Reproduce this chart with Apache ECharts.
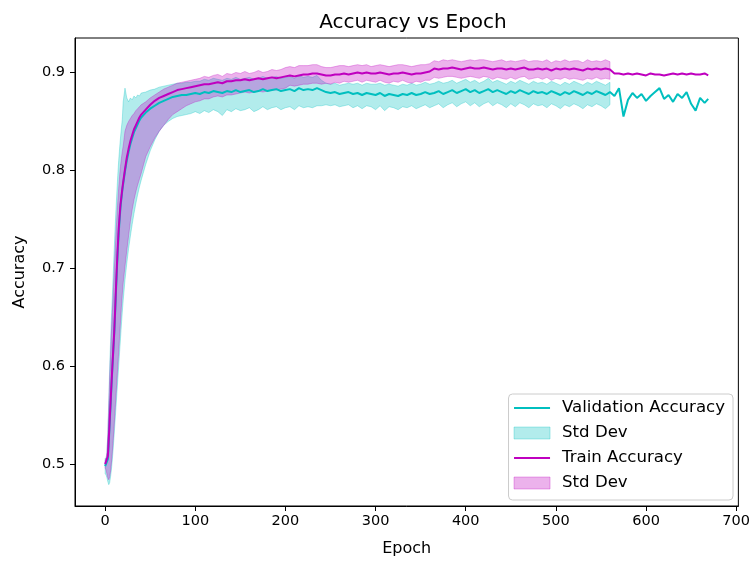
<!DOCTYPE html>
<html><head><meta charset="utf-8">
<script src="https://cdn.jsdelivr.net/npm/echarts@6/dist/echarts.min.js"></script>
<style>html,body{margin:0;padding:0;background:#fff}#c{width:753px;height:562px}</style>
</head><body><div id="c"></div>
<script>
// sample epochs
const epochs = [0,1,2,3,4,5,6,7,8,9,10,11,12,13,14,15,16,17,18,19,20,
  22,24,26,28,30,32,34,36,38,40,
  45,50,55,60,65,70,75,80,85,90,95,100,
  105,110,115,120,125,130,135,140,145,150,155,160,165,170,175,180,185,190,195,200,
  205,210,215,220,225,230,235,240,245,250,255,260,265,270,275,280,285,290,295,300,
  305,310,315,320,325,330,335,340,345,350,355,360,365,370,375,380,385,390,395,400,
  405,410,415,420,425,430,435,440,445,450,455,460,465,470,475,480,485,490,495,500,
  505,510,515,520,525,530,535,540,545,550,555,560,565,570,575,580,585,590,595,600,
  605,610,615,620,625,630,635,640,645,650,655,660,665,669];

const valMean = [.498,.497,.499,.505,.522,.542,.560,.580,.598,.615,.632,.653,.676,.698,.718,.735,.749,.762,.771,.779,.786,
  .799,.810,.819,.827,.833,.839,.843,.847,.851,.854,
  .859,.863,.866,.869,.871,.873,.875,.876,.877,.877,.878,.879,
  .878,.880,.879,.881,.880,.879,.881,.880,.882,.880,.881,.882,.880,.881,.883,.881,.882,.883,.881,.882,
  .883,.881,.884,.882,.883,.882,.884,.882,.880,.879,.880,.878,.879,.880,.878,.879,.877,.879,.878,.877,
  .879,.876,.878,.877,.876,.878,.877,.879,.877,.878,.880,.878,.879,.881,.878,.880,.882,.879,.881,.883,
  .880,.882,.879,.881,.883,.880,.882,.880,.878,.881,.879,.882,.880,.878,.881,.879,.880,.878,.881,.879,
  .877,.880,.878,.881,.879,.877,.880,.878,.881,.879,.877,.880,.876,.884,.855,.872,.879,.874,.878,.871,
  .876,.880,.884,.873,.877,.870,.878,.874,.880,.868,.861,.874,.869,.873];

const trainMean = [.500,.500,.502,.508,.525,.545,.563,.582,.600,.617,.634,.656,.680,.702,.722,.740,.753,.765,.773,.781,.788,
  .801,.813,.822,.830,.836,.842,.846,.850,.854,.857,
  .862,.867,.871,.874,.876,.878,.880,.882,.883,.884,.885,.886,
  .887,.888,.888,.889,.890,.889,.891,.891,.892,.892,.893,.892,.893,.894,.893,.894,.895,.894,.895,.896,
  .897,.896,.897,.898,.898,.899,.899,.898,.897,.897,.898,.898,.899,.898,.899,.900,.899,.900,.899,.899,
  .900,.899,.898,.899,.899,.900,.899,.898,.899,.899,.900,.901,.904,.903,.904,.904,.905,.904,.903,.904,
  .905,.904,.904,.905,.904,.903,.904,.904,.903,.904,.903,.904,.905,.903,.903,.904,.903,.904,.902,.904,
  .903,.904,.903,.904,.903,.902,.904,.903,.904,.903,.904,.903,.899,.899,.898,.899,.898,.899,.898,.897,
  .899,.898,.898,.897,.898,.899,.898,.899,.898,.899,.898,.898,.899,.897];

// std-dev band edges (epochs 0..560)
const valLow = [.490,.489,.486,.482,.479,.481,.487,.495,.505,.517,.530,.544,.558,.572,.586,.600,.614,.628,.642,.655,.667,
  .688,.705,.720,.733,.745,.756,.766,.775,.783,.790,
  .806,.820,.831,.840,.846,.850,.853,.855,.856,.857,.858,.860,
  .858,.861,.859,.862,.860,.856,.862,.860,.863,.861,.862,.864,.860,.862,.865,.862,.864,.865,.862,.864,
  .865,.862,.866,.864,.865,.864,.866,.866,.867,.866,.867,.865,.866,.867,.864,.866,.863,.866,.865,.862,
  .866,.861,.865,.864,.862,.865,.864,.866,.863,.865,.867,.864,.866,.868,.864,.867,.869,.865,.868,.870,
  .866,.869,.865,.868,.870,.866,.869,.867,.864,.868,.865,.869,.867,.864,.868,.866,.867,.864,.868,.866,
  .863,.867,.865,.868,.866,.863,.867,.865,.868,.866,.863,.867];
const valHigh = [.506,.505,.512,.532,.565,.598,.625,.650,.672,.695,.718,.740,.760,.778,.795,.810,.822,.833,.843,.852,.870,
  .884,.874,.870,.874,.872,.876,.874,.877,.876,.879,
  .880,.882,.883,.885,.886,.887,.888,.889,.889,.890,.890,.891,
  .891,.893,.892,.894,.893,.892,.894,.893,.895,.893,.894,.895,.893,.894,.896,.894,.895,.896,.894,.895,
  .896,.894,.897,.895,.896,.895,.897,.892,.889,.888,.889,.887,.888,.889,.888,.889,.887,.889,.888,.888,
  .889,.887,.888,.887,.886,.888,.887,.889,.887,.888,.890,.888,.889,.891,.889,.890,.892,.889,.891,.893,
  .890,.892,.889,.891,.894,.890,.892,.890,.888,.891,.889,.892,.890,.888,.891,.889,.890,.888,.891,.889,
  .887,.890,.888,.891,.889,.887,.890,.888,.891,.889,.887,.890];
const trainLow = [.496,.494,.490,.486,.484,.487,.493,.502,.513,.526,.540,.555,.570,.585,.600,.615,.630,.645,.660,.673,.685,
  .702,.718,.733,.748,.760,.770,.778,.785,.791,.797,
  .814,.824,.833,.840,.846,.852,.857,.860,.863,.866,.868,.870,
  .871,.873,.873,.875,.876,.875,.877,.877,.878,.879,.880,.879,.880,.881,.880,.881,.882,.882,.883,.884,
  .887,.886,.887,.888,.888,.889,.889,.888,.889,.888,.890,.889,.891,.890,.891,.892,.890,.892,.891,.890,
  .892,.890,.889,.891,.890,.892,.890,.889,.891,.890,.892,.892,.895,.894,.895,.896,.896,.895,.894,.895,
  .896,.895,.894,.896,.895,.893,.895,.894,.893,.895,.893,.895,.896,.893,.894,.895,.893,.895,.892,.894,
  .893,.895,.893,.894,.893,.892,.894,.893,.895,.893,.894,.893];
const trainHigh = [.504,.506,.512,.530,.558,.588,.612,.635,.655,.675,.695,.715,.735,.752,.768,.782,.794,.804,.812,.819,.825,
  .840,.846,.850,.853,.856,.858,.861,.863,.865,.867,
  .870,.874,.877,.880,.883,.885,.887,.889,.890,.891,.892,.893,
  .894,.896,.895,.897,.898,.896,.899,.898,.900,.899,.901,.899,.900,.902,.900,.901,.903,.902,.903,.905,
  .906,.905,.907,.907,.907,.908,.908,.906,.905,.905,.906,.907,.907,.906,.907,.908,.907,.908,.906,.907,
  .908,.907,.906,.907,.908,.908,.907,.906,.907,.908,.908,.909,.912,.911,.913,.912,.913,.912,.911,.912,
  .913,.912,.913,.913,.912,.911,.912,.913,.911,.912,.911,.912,.913,.911,.912,.912,.911,.913,.910,.912,
  .911,.913,.911,.912,.912,.910,.913,.911,.912,.911,.913,.911];

const xTicks = [0,100,200,300,400,500,600,700];
const yTicks = [0.5,0.6,0.7,0.8,0.9];

const CY = '#00bfbf', MG = '#bf00bf';
const CYA = 'rgba(0,191,191,0.3)', MGA = 'rgba(191,0,191,0.3)';
const FONT = 'DejaVu Sans';

function pairs(xs, ys) { return ys.map((y, i) => [xs[i], y]); }
function bandData(xs, lo, hi) { return lo.map((l, i) => [xs[i], l, hi[i]]); }

// one polygon per band, projected through the chart's own coordinate system
function bandSeries(name, band, fill) {
  return {name: name, type: 'custom', silent: true, clip: true,
    itemStyle: {color: fill},
    encode: {x: 0, y: [1, 2]}, data: band,
    renderItem: function (params, api) {
      if (params.dataIndex !== 0) return null;
      const top = [], bot = [];
      for (let i = 0; i < band.length; i++) {
        top.push(api.coord([band[i][0], band[i][2]]));
        bot.push(api.coord([band[i][0], band[i][1]]));
      }
      return {type: 'polygon', shape: {points: top.concat(bot.reverse())},
        style: {fill: fill, stroke: fill, lineWidth: 1}};
    }};
}

const valBand = bandData(epochs, valLow, valHigh);
const trainBand = bandData(epochs, trainLow, trainHigh);

const LINE_ICON = 'path://M0,0H36V2H0Z';

const chart = echarts.init(document.getElementById('c'), null, {renderer: 'canvas'});
chart.setOption({
  animation: false,
  backgroundColor: '#fff',
  title: {text: 'Accuracy vs Epoch', left: 408, textAlign: 'center', top: 8,
    textStyle: {fontFamily: FONT, fontSize: 20, fontWeight: 'normal', color: '#000'}},
  grid: {left: 75, right: 12, top: 38, bottom: 55, show: true, borderColor: '#000', borderWidth: 1},
  xAxis: {type: 'value', min: -33.45, max: 702.45,
    name: 'Epoch', nameLocation: 'middle', nameGap: 35,
    nameTextStyle: {fontFamily: FONT, fontSize: 16, color: '#000'},
    axisLine: {show: true, onZero: false, lineStyle: {color: '#000', width: 1}},
    axisTick: {show: true, length: 5, customValues: xTicks, lineStyle: {color: '#000'}},
    axisLabel: {customValues: xTicks, margin: 8, fontFamily: FONT, fontSize: 14.5, color: '#000'},
    splitLine: {show: false}},
  yAxis: {type: 'value', min: 0.4572, max: 0.9352,
    name: 'Accuracy', nameLocation: 'middle', nameGap: 47,
    nameTextStyle: {fontFamily: FONT, fontSize: 16, color: '#000'},
    axisLine: {show: true, onZero: false, lineStyle: {color: '#000', width: 1}},
    axisTick: {show: true, length: 5, customValues: yTicks, lineStyle: {color: '#000'}},
    axisLabel: {customValues: yTicks, margin: 10, fontFamily: FONT, fontSize: 14.5, color: '#000',
      formatter: v => v.toFixed(1)},
    splitLine: {show: false}},
  legend: {orient: 'vertical', right: 20, bottom: 62, itemWidth: 36, itemHeight: 12, itemGap: 7,
    padding: [5, 8, 8, 5],
    backgroundColor: 'rgba(255,255,255,0.8)', borderColor: '#cccccc', borderWidth: 1, borderRadius: 4,
    textStyle: {fontFamily: FONT, fontSize: 16.6, color: '#000', lineHeight: 18, padding: [0, 0, 0, 7]},
    formatter: n => n.indexOf('Std Dev') === 0 ? 'Std Dev' : n,
    data: [
      {name: 'Validation Accuracy', icon: LINE_ICON, itemStyle: {color: CY}},
      {name: 'Std Dev (val)', icon: 'rect', itemStyle: {color: CYA, borderColor: CYA, borderWidth: 1}},
      {name: 'Train Accuracy', icon: LINE_ICON, itemStyle: {color: MG}},
      {name: 'Std Dev (train)', icon: 'rect', itemStyle: {color: MGA, borderColor: MGA, borderWidth: 1}}
    ]},
  series: [
    {name: 'Validation Accuracy', type: 'line', symbol: 'none', data: pairs(epochs, valMean),
      lineStyle: {color: CY, width: 2}, itemStyle: {color: CY}},
    bandSeries('Std Dev (val)', valBand, CYA),
    {name: 'Train Accuracy', type: 'line', symbol: 'none', data: pairs(epochs, trainMean),
      lineStyle: {color: MG, width: 2}, itemStyle: {color: MG}},
    bandSeries('Std Dev (train)', trainBand, MGA)
  ]
});
</script></body></html>
